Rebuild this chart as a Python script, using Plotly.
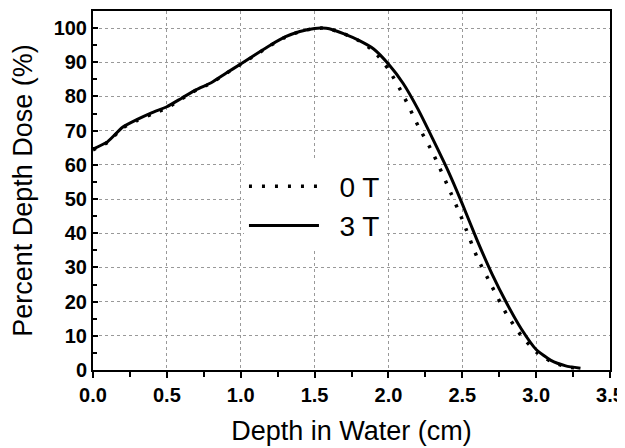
import plotly.graph_objects as go

depth = [0.0, 0.1, 0.2, 0.3, 0.4, 0.5, 0.6, 0.7, 0.8, 0.9, 1.0, 1.1, 1.2, 1.3, 1.4,
         1.5, 1.55, 1.6, 1.7, 1.8, 1.9, 2.0, 2.1, 2.2, 2.3, 2.4, 2.5, 2.6, 2.7,
         2.8, 2.9, 3.0, 3.1, 3.2, 3.3]
dose_0T = [64.4, 66.6, 70.8, 73.0, 74.9, 76.6, 79.3, 81.9, 83.9, 86.7, 89.4, 92.1, 94.9,
           97.3, 99.0, 99.9, 100.0, 99.8, 98.3, 96.3, 93.3, 88.0, 80.4, 71.5, 63.5,
           54.0, 44.0, 33.0, 24.5, 16.3, 10.0, 5.3, 2.5, 1.0, 0.4]
dose_3T = [64.6, 66.8, 71.0, 73.3, 75.3, 77.0, 79.5, 82.0, 84.0, 86.8, 89.5, 92.3, 95.0,
           97.4, 99.0, 99.9, 100.0, 99.8, 98.3, 96.4, 93.9, 89.5, 83.8, 76.3, 67.6,
           58.6, 48.6, 38.0, 28.2, 19.6, 12.0, 6.0, 2.8, 1.2, 0.5]
series_names = ["0 T", "3 T"]

x_ticks = [0.0, 0.5, 1.0, 1.5, 2.0, 2.5, 3.0, 3.5]
x_tick_labels = ["0.0", "0.5", "1.0", "1.5", "2.0", "2.5", "3.0", "3.5"]
y_ticks = [0, 10, 20, 30, 40, 50, 60, 70, 80, 90, 100]

fig = go.Figure()
fig.add_trace(go.Scatter(x=depth, y=dose_0T, mode="lines", name="\u00a0\u00a0" + series_names[0],
                         line=dict(color="black", width=3.5, dash="3px,10px", shape="spline", smoothing=0.5)))
fig.add_trace(go.Scatter(x=depth, y=dose_3T, mode="lines", name="\u00a0\u00a0" + series_names[1],
                         line=dict(color="black", width=3, shape="spline", smoothing=0.5)))

FONT = "Liberation Sans, Arial, sans-serif"
axis_font = dict(family=FONT, size=20, color="black")
# the page body has an 8px default margin, so the figure is sized to fit the 625x448 window
fig.update_layout(
    width=617, height=440,
    margin=dict(l=85, r=15, t=3, b=78),
    paper_bgcolor="white", plot_bgcolor="white",
    font=dict(family=FONT, color="black"),
    showlegend=True,
    legend=dict(x=0.292, y=0.457, xanchor="left", yanchor="middle",
                bgcolor="white", font=dict(size=28, family=FONT),
                itemwidth=70, tracegroupgap=0),
    xaxis=dict(range=[0, 3.5], tickvals=x_ticks, ticktext=["<b>%s</b>" % t for t in x_tick_labels],
               tickfont=axis_font, ticks="outside", ticklen=6, tickwidth=2, tickcolor="black",
               minor=dict(dtick=0.25, ticks="outside", ticklen=5, tickwidth=2, tickcolor="black", showgrid=False),
               showline=True, linecolor="black", linewidth=2, mirror=True,
               showgrid=True, gridcolor="#999", griddash="dot", gridwidth=1,
               zeroline=False, automargin=False,
               title=dict(text="Depth in Water (cm)", font=dict(size=27), standoff=16)),
    yaxis=dict(range=[0, 105], tickvals=y_ticks, ticktext=["<b>%d</b>" % t for t in y_ticks],
               tickfont=axis_font, ticks="inside", ticklen=5, tickwidth=2, tickcolor="black",
               minor=dict(dtick=5, ticks="inside", ticklen=4, tickwidth=2, tickcolor="black", showgrid=False),
               showline=True, linecolor="black", linewidth=2, mirror=True,
               showgrid=True, gridcolor="#999", griddash="dot", gridwidth=1,
               zeroline=False, automargin=False,
               title=dict(text="Percent Depth Dose (%)", font=dict(size=27), standoff=20)),
)

fig.write_html("out.html")
